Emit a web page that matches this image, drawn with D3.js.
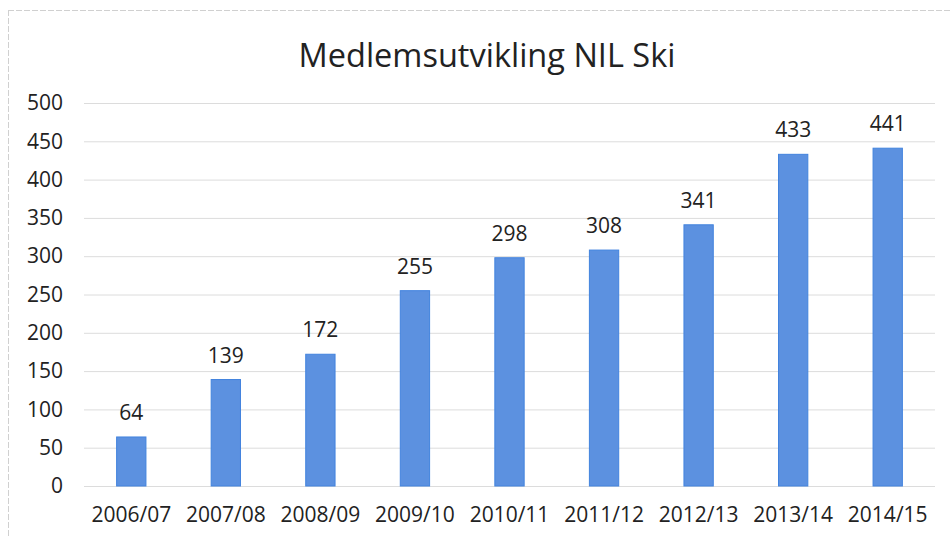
<!DOCTYPE html>
<html><head><meta charset="utf-8">
<script src="https://cdn.jsdelivr.net/npm/d3@7"></script>
<style>body{margin:0;background:#fff;} svg{display:block;}</style>
</head><body>
<script>
const categories = ["2006/07","2007/08","2008/09","2009/10","2010/11","2011/12","2012/13","2013/14","2014/15"];
const members = [64,139,172,255,298,308,341,433,441];
const yTicks = [0,50,100,150,200,250,300,350,400,450,500];
const title = "Medlemsutvikling NIL Ski";

const W = 952, H = 537;
const m = {left: 84, right: 17, top: 103, bottom: 51};
const svg = d3.select("body").append("svg").attr("width", W).attr("height", H);

svg.append("line").attr("x1", 8.5).attr("x2", 8.5).attr("y1", 10).attr("y2", H)
  .attr("stroke", "#d0d0d0").attr("stroke-dasharray", "6,2");
svg.append("line").attr("x1", 8).attr("x2", W).attr("y1", 10.5).attr("y2", 10.5)
  .attr("stroke", "#d0d0d0").attr("stroke-dasharray", "6,2");

const x = d3.scaleBand().domain(categories).range([m.left, W - m.right]).paddingInner(0.69).paddingOuter(0.345);
const y = d3.scaleLinear().domain([0, 500]).range([H - m.bottom, m.top]);

svg.append("g").selectAll("line").data(yTicks).join("line")
  .attr("x1", m.left).attr("x2", W - m.right)
  .attr("y1", d => y(d) + 0.5).attr("y2", d => y(d) + 0.5)
  .attr("stroke", "#dcdcdc").attr("stroke-width", 1);

const font = "Open Sans";
const fs = 21;
const yAxis = svg.append("g").attr("transform", `translate(${m.left},0)`)
  .call(d3.axisLeft(y).tickValues(yTicks).tickSize(0).tickPadding(21));
yAxis.select(".domain").remove();
yAxis.selectAll("text").attr("font-family", font).attr("font-size", fs).attr("fill", "#222");

const xAxis = svg.append("g").attr("transform", `translate(0,${H - m.bottom})`)
  .call(d3.axisBottom(x).tickSize(0).tickPadding(21));
xAxis.select(".domain").remove();
xAxis.selectAll("text").attr("font-family", font).attr("font-size", fs).attr("fill", "#222");

svg.append("g").selectAll("rect").data(members).join("rect")
  .attr("x", (d, i) => x(categories[i]))
  .attr("width", x.bandwidth())
  .attr("y", d => y(d))
  .attr("height", d => y(0) - y(d))
  .attr("fill", "#5c91e0").attr("stroke", "#4283de").attr("stroke-width", 1);

svg.append("g").selectAll("text").data(members).join("text")
  .attr("x", (d, i) => x(categories[i]) + x.bandwidth() / 2)
  .attr("y", d => y(d) - 17)
  .attr("text-anchor", "middle")
  .attr("font-family", font).attr("font-size", fs).attr("fill", "#222")
  .text(d => d);

svg.append("text").attr("x", 487).attr("y", 67).attr("text-anchor", "middle")
  .attr("font-family", font).attr("font-size", 32.5).attr("fill", "#222")
  .text(title);
</script>
</body></html>
